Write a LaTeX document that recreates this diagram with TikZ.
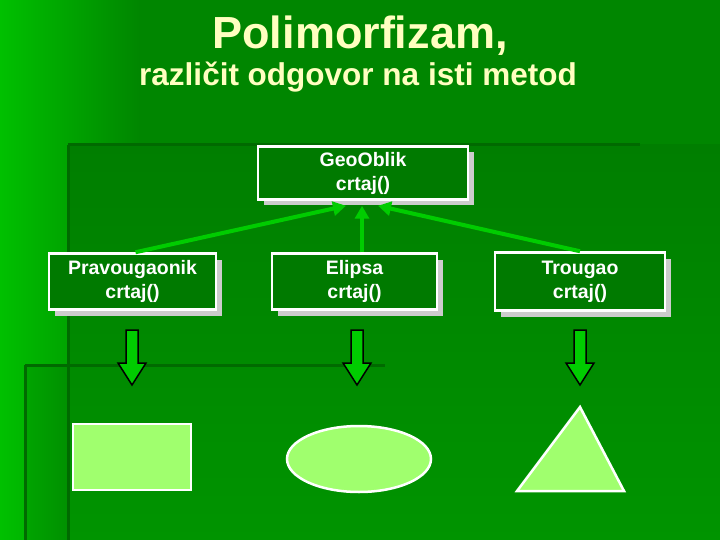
\documentclass[tikz,border=0pt]{standalone}
\usepackage{fontspec}
\setmainfont{Liberation Sans}
\usetikzlibrary{arrows.meta,shadows,shapes.geometric}
\definecolor{bgleft}{HTML}{00C000}
\definecolor{bgmid}{HTML}{008600}
\definecolor{bgtop}{HTML}{007E00}
\definecolor{bgbot}{HTML}{009400}
\definecolor{bgstrip}{HTML}{00A400}
\definecolor{darkline}{HTML}{006A00}
\definecolor{boxgreen}{HTML}{007A00}
\definecolor{shadowgray}{HTML}{CCCCCC}
\definecolor{arrowgreen}{HTML}{00CC00}
\definecolor{shapefill}{HTML}{A0FF6E}
\definecolor{titlecol}{HTML}{FFFFC0}
\tikzset{
  classbox/.style={draw=white, line width=2.5pt, fill=boxgreen, text=white,
    align=center, inner sep=0pt, font=\fontsize{19.5}{24}\selectfont\bfseries,
    drop shadow={shadow xshift=6pt, shadow yshift=-6pt, fill=shadowgray, opacity=1}},
  inherit/.style={draw=arrowgreen, line width=4pt, -{Triangle[length=13pt,width=14pt]}},
  blockarrow/.style={draw=black, line width=1.5pt, fill=arrowgreen, line join=miter},
  figure/.style={draw=white, line width=2.5pt, fill=shapefill},
  stripe/.style={draw=darkline, line width=3pt}
}
\begin{document}
\begin{tikzpicture}[x=1pt,y=-1pt]
\useasboundingbox (0,0) rectangle (720,540);
% background
\fill[bgmid] (0,0) rectangle (720,540);
\shade[left color=bgleft, right color=bgmid] (0,0) rectangle (140,540);
\shade[top color=bgtop, bottom color=bgbot] (68,145) rectangle (720,540);
\shade[left color=bgstrip, right color=bgstrip!88!black] (25,365) rectangle (68,540);
\draw[stripe] (68,145) -- (640,145);
\draw[stripe] (68,145) -- (68,540);
\draw[stripe] (25,365) -- (385,365);
\draw[stripe] (25,365) -- (25,540);
% title
\node[text=titlecol, font=\fontsize{45}{50}\selectfont\bfseries] (title) at (360,36) {Polimorfizam,};
\node[text=titlecol, font=\fontsize{31.5}{36}\selectfont\bfseries] (subtitle) at (358,77) {različit odgovor na isti metod};
% class boxes
\node[classbox, minimum width=210pt, minimum height=53pt] (geo) at (363,173) {GeoOblik\\crtaj()};
\node[classbox, minimum width=167pt, minimum height=56pt] (prav) at (132.5,281.5) {Pravougaonik\\crtaj()};
\node[classbox, minimum width=165pt, minimum height=56pt] (elip) at (354.5,281.5) {Elipsa\\crtaj()};
\node[classbox, minimum width=170pt, minimum height=58pt] (trou) at (580,281.5) {Trougao\\crtaj()};
% inheritance arrows
\draw[inherit] ([xshift=3pt]prav.north) -- ([xshift=-17pt,yshift=-5pt]geo.south);
\draw[inherit] ([xshift=7.5pt]elip.north) -- ([xshift=-1pt,yshift=-5pt]geo.south);
\draw[inherit] (trou.north) -- ([xshift=15pt,yshift=-5pt]geo.south);
% block arrows down
\foreach \c in {132,357,580}{
  \draw[blockarrow] (\c-6,330) -- (\c+6,330) -- (\c+6,363) -- (\c+14,363) -- (\c,385)
    -- (\c-14,363) -- (\c-6,363) -- cycle;
}
% shapes
\draw[figure] (73,424) rectangle (191,490);
\draw[figure] (359,459) ellipse [x radius=72, y radius=33];
\draw[figure] (580,407) -- (624,491) -- (517,491) -- cycle;
\end{tikzpicture}
\end{document}
